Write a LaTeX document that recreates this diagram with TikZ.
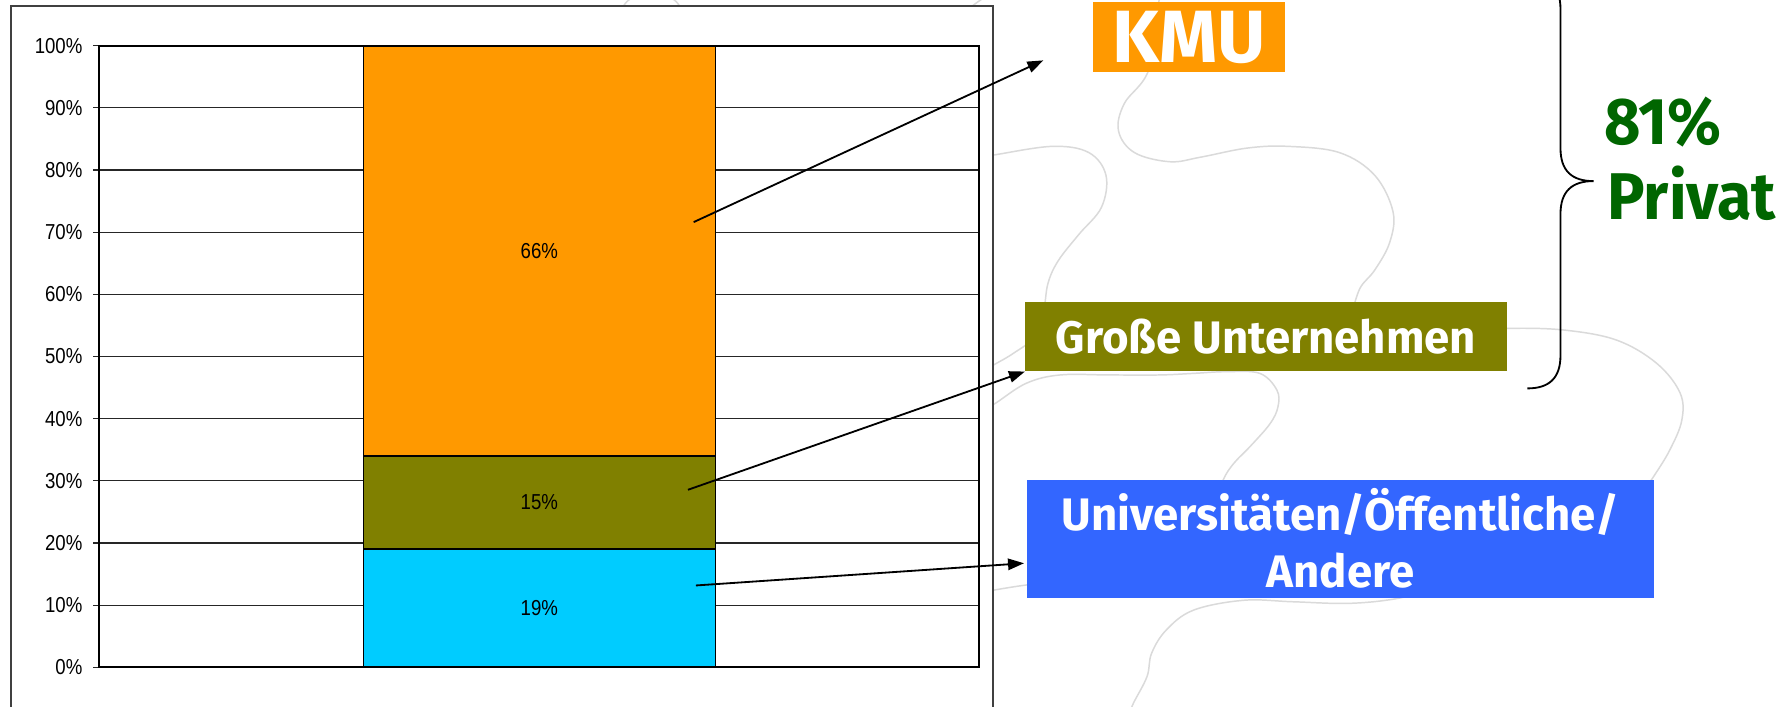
\documentclass[tikz,border=0pt]{standalone}
\usepackage{fontspec}
\setmainfont{Fira Sans}
\newfontfamily\axisfont[FakeStretch=0.86]{Liberation Sans}
\newfontfamily\privfont[FakeStretch=0.95]{Fira Sans}
\usetikzlibrary{arrows.meta}
\definecolor{kmuorange}{HTML}{FF9900}
\definecolor{olivebox}{HTML}{808000}
\definecolor{cyanbar}{HTML}{00CCFF}
\definecolor{blueb}{HTML}{3366FF}
\definecolor{privgreen}{HTML}{006600}
\definecolor{curvegray}{HTML}{DADADA}
\begin{document}
\begin{tikzpicture}[x=1pt,y=-1pt,
  axislbl/.style={font=\axisfont\fontsize{19}{22}\selectfont, inner sep=0pt},
  gridline/.style={line width=1.1pt, draw=black!85},
  deco/.style={draw=curvegray, line width=1.3pt},
  labelbox/.style={inner sep=0pt, text=white, font=\bfseries\fontsize{40}{50}\selectfont, align=center},
  privtext/.style={inner sep=0pt, text=privgreen, font=\privfont\bfseries\fontsize{58}{60}\selectfont},
  pointer/.style={line width=1.6pt, -{Triangle[length=14pt,width=10pt]}},
  barseg/.style={line width=1.4pt, draw=black}
]
\useasboundingbox (0,0) rectangle (1568,620);
\fill[white] (0,0) rectangle (1568,620);

% background decoration curves
\draw[deco] plot[smooth, tension=0.6] coordinates {(1018,-5) (1009,60) (987,91) (982,115) (996,134) (1027,142) (1054,138) (1095,130) (1131,128.5) (1176,134) (1207,154) (1223,186) (1220,213) (1207,237) (1194,253) (1187,275)};
\draw[deco] plot[smooth, tension=0.6] coordinates {(860,138) (873,136) (924,128.5) (956,134) (971,154) (967,182) (947,206) (929,229) (920,249) (916,275) (908,296) (890,310) (873,320) (860,327)};
\draw[deco] plot[smooth, tension=0.6] coordinates {(860,362) (874,354) (901,336.5) (930.6,329.2) (974.5,329.2) (1018,329.2) (1048,327.8) (1077,326.3) (1106,327.8) (1121,342.4) (1122,357) (1115,372) (1097.5,392) (1083,407) (1074,421) (1068,440)};
\draw[deco] plot[smooth, tension=0.6] coordinates {(1290,291) (1324,288.3) (1372.5,289.7) (1419,298.5) (1454.5,319) (1475,345) (1476.5,369) (1466,395) (1452,418) (1440,435)};
\draw[deco] plot[smooth, tension=0.6] coordinates {(860,521) (873,518) (901,513.6) (920,512)};
\draw[deco] plot[smooth, tension=0.6] coordinates {(1260,515) (1229,525) (1185,529.7) (1135,528.3) (1092,527) (1048,535.6) (1024,553) (1011,573.6) (1007,594) (995,617.5) (990,630)};
\draw[deco] plot[smooth, tension=0.6] coordinates {(544,12) (552,0) (572,-8) (592,0) (600,12)};
\draw[deco] plot[smooth, tension=0.6] coordinates {(845,12) (858,2) (870,-6)};

% chart frame
\draw[line width=1.6pt, draw=black!75, fill=white] (9.4,640) -- (9.4,5) -- (872,5) -- (872,640);

% grid and ticks
\foreach \p in {10,20,...,90}
  \draw[gridline] (87,{585.9-5.458*\p}) -- (859.5,{585.9-5.458*\p});
\foreach \p in {0,10,...,100}
  \draw[gridline] (82,{585.9-5.458*\p}) -- (87,{585.9-5.458*\p});

% stacked bar
\draw[barseg, fill=cyanbar] (319,585.9) rectangle (628,{585.9-5.458*19});
\draw[barseg, fill=olivebox] (319,{585.9-5.458*19}) rectangle (628,{585.9-5.458*34});
\draw[barseg, fill=kmuorange] (319,{585.9-5.458*34}) rectangle (628,40.1);

% plot area border
\draw[line width=1.8pt] (87,40.1) rectangle (859.5,585.9);

% axis labels
\foreach \p in {0,10,...,100}
  \node[axislbl, anchor=east] (ax\p) at (72.5,{585.9-5.458*\p}) {\p\%};

% value labels
\node[axislbl] (v66) at (473.5,220) {66\%};
\node[axislbl] (v15) at (473.5,441) {15\%};
\node[axislbl] (v19) at (473.5,534) {19\%};

% category boxes
\node[labelbox, fill=kmuorange, minimum width=168pt, minimum height=61pt, font=\bfseries\fontsize{65}{70}\selectfont] (kmu) at (1044,32.5) {KMU};
\node[labelbox, fill=olivebox, minimum width=423pt, minimum height=61pt] (gross) at (1111.5,295.5) {Große Unternehmen};
\node[labelbox, fill=blueb, minimum width=551pt, minimum height=104pt] (uni) at (1177,473) {Universitäten/Öffentliche/\\Andere};

% brace
\draw[line width=1.6pt] (1341,-22) .. controls (1360,-22) and (1370,-12) .. (1370,8) -- (1370,130) .. controls (1370,150) and (1380,159) .. (1399,159) .. controls (1380,159) and (1370,168) .. (1370,188) -- (1370,312) .. controls (1370,332) and (1360,341) .. (1341,341);

\node[privtext, anchor=base west] (p81) at (1408,127) {81\%};
\node[privtext, anchor=base west] (priv) at (1411,193) {Privat};

% arrows
\coordinate (a1s) at (609,195);
\coordinate (a1e) at (916,53);
\draw[pointer] (a1s) -- (a1e);
\coordinate (a2s) at (604,430);
\draw[pointer] (a2s) -- (gross.south west);
\coordinate (a3s) at (611,514);
\coordinate (a3e) at (899,494.5);
\draw[pointer] (a3s) -- (a3e);
\end{tikzpicture}
\end{document}
